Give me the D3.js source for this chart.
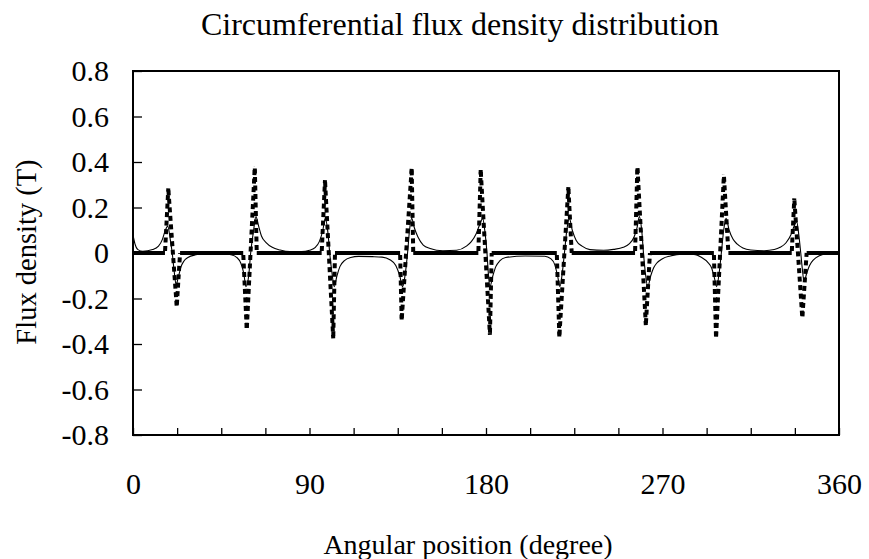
<!DOCTYPE html>
<html>
<head>
<meta charset="utf-8">
<script src="https://cdn.jsdelivr.net/npm/d3@7"></script>
<style>
  body { margin: 0; background: #fff; }
  text { font-family: "Liberation Serif", "Times New Roman", serif; fill: #000; }
</style>
</head>
<body>
<script>
//chart size
var w = 869;
var h = 559;
var serif = '"Liberation Serif", "Times New Roman", serif';

//plot area (inner frame)
var padLeft = 133, padTop = 71, plotW = 706, plotH = 364;

//tick values
var xMinorTicks = d3.range(0, 361, 22.5);
var xTickLabels = [0, 90, 180, 270, 360];
var yTicks = [-0.8, -0.6, -0.4, -0.2, 0, 0.2, 0.4, 0.6, 0.8];

//solid thin series: angle (deg)
var solidAngle = [0, 1, 2.5, 5, 10, 13, 15, 16.5, 17.7, 19, 20, 21, 22, 23, 24.5, 26, 28, 32, 36, 45,
  50, 53, 55, 56.5, 57.6, 59, 60, 61.5, 62.7, 64, 65.5, 68, 71, 75, 80, 86,
  90, 93, 95, 96.8, 98, 99.5, 100.3, 101.5, 102.6, 104, 105.5, 108, 111, 115, 122, 127,
  131, 134, 136, 137.5, 139, 140, 141, 142.1, 143.5, 145.3, 148, 151.5, 158, 165,
  170, 172.5, 175, 177, 178.3, 179.5, 180.5, 181.2, 182, 183.5, 185, 187, 190, 200,
  210, 213, 215, 216.5, 217.7, 219, 220, 221.2, 222.5, 224, 226, 229, 233, 240,
  245, 250, 253, 255.5, 257, 258.2, 259.5, 260.3, 261.3, 262.5, 264, 265.5, 267, 270, 274, 280,
  286, 290, 293, 295, 296.5, 297.6, 299, 300, 301.2, 302.4, 304, 306, 308, 311, 315, 322,
  327, 330, 333, 335.5, 337.2, 338.4, 339.5, 340.5, 341.3, 342.2, 343.5, 345, 347, 350, 354, 360];
//solid thin series: flux density (T)
var solidFlux = [0.08, 0.04, 0.015, 0.008, 0.015, 0.03, 0.06, 0.1, 0.118, 0.06, 0, -0.08, -0.14, -0.11, -0.06, -0.035, -0.02, -0.008, -0.004, -0.003,
  -0.008, -0.02, -0.045, -0.09, -0.148, -0.1, 0, 0.1, 0.16, 0.12, 0.075, 0.045, 0.025, 0.013, 0.006, 0.006,
  0.012, 0.025, 0.05, 0.1, 0.152, 0.08, 0, -0.09, -0.148, -0.1, -0.06, -0.032, -0.02, -0.015, -0.016, -0.018,
  -0.03, -0.055, -0.1, -0.148, -0.08, 0, 0.1, 0.152, 0.11, 0.07, 0.035, 0.02, 0.01, 0.012,
  0.03, 0.05, 0.085, 0.13, 0.152, 0.09, 0, -0.09, -0.148, -0.1, -0.06, -0.035, -0.02, -0.013,
  -0.014, -0.025, -0.05, -0.1, -0.148, -0.08, 0, 0.1, 0.152, 0.1, 0.055, 0.03, 0.015, 0.012,
  0.016, 0.025, 0.04, 0.07, 0.11, 0.16, 0.09, 0, -0.09, -0.148, -0.1, -0.065, -0.045, -0.025, -0.013, -0.005,
  -0.006, -0.02, -0.04, -0.065, -0.11, -0.148, -0.08, 0, 0.1, 0.152, 0.1, 0.06, 0.04, 0.022, 0.013, 0.01,
  0.015, 0.025, 0.045, 0.08, 0.12, 0.138, 0.08, 0, -0.07, -0.126, -0.09, -0.055, -0.03, -0.012, -0.003, 0];

//dotted thick series: angle (deg)
var dotAngle = [0, 16.3, 18, 22.3, 24,
  56.2, 58, 62.1, 63.1,
  96.2, 97.9, 102.1, 103,
  136.2, 137, 142.1, 142.9,
  176.1, 177.3, 182, 182.9,
  216.1, 217.4, 222, 223.7,
  256, 257.2, 261.5, 263.6,
  296.2, 297.3, 301.3, 303.6,
  335.9, 337.2, 341.3, 343.5, 360];
//dotted thick series: flux density (T)
var dotFlux = [0, 0, 0.284, -0.236, 0,
  0, -0.338, 0.38, 0,
  0, 0.32, -0.375, 0,
  0, -0.295, 0.372, 0,
  0, 0.365, -0.36, 0,
  0, -0.368, 0.29, 0,
  0, 0.382, -0.317, 0,
  0, -0.375, 0.343, 0,
  0, 0.24, -0.287, 0, 0];

//scales
var x = d3.scaleLinear().domain([0, 360]).range([padLeft, padLeft + plotW]);
var y = d3.scaleLinear().domain([-0.8, 0.8]).range([padTop + plotH, padTop]);

var svg = d3.select("body")
            .append("svg")
            .attr("width", w)
            .attr("height", h);

//title
svg.append("text")
    .attr("x", 460)
    .attr("y", 35)
    .attr("text-anchor", "middle")
    .style("font-family", serif)
    .style("font-size", "32px")
    .text("Circumferential flux density distribution");

//x axis with inward ticks, labels only every 90 degrees
var xAxis = d3.axisBottom(x)
              .tickValues(xMinorTicks)
              .tickSize(-7)
              .tickPadding(38)
              .tickFormat(function(d) { return xTickLabels.indexOf(d) >= 0 ? d : ""; });

var gx = svg.append("g")
    .attr("transform", "translate(0," + (padTop + plotH) + ")")
    .call(xAxis);

//y axis with inward ticks
var yAxis = d3.axisLeft(y)
              .tickValues(yTicks)
              .tickSize(-9)
              .tickPadding(24)
              .tickFormat(function(d) { return Math.abs(d) < 1e-9 ? "0" : d.toFixed(1); });

var gy = svg.append("g")
    .attr("transform", "translate(" + padLeft + ",0)")
    .call(yAxis);

[gx, gy].forEach(function(g) {
    g.attr("font-family", serif);
    g.select(".domain").remove();
    g.selectAll("line").attr("stroke", "#000").attr("stroke-width", 1.3);
    g.selectAll("text")
        .style("font-family", serif)
        .style("font-size", "30px")
        .attr("fill", "#000");
});

//solid series
var solidData = solidAngle.map(function(a, i) { return [a, solidFlux[i]]; });
var line = d3.line()
             .x(function(d) { return x(d[0]); })
             .y(function(d) { return y(d[1]); })
             .curve(d3.curveMonotoneX);

svg.append("path")
    .datum(solidData)
    .attr("d", line)
    .attr("fill", "none")
    .attr("stroke", "#000")
    .attr("stroke-width", 1.1);

//dotted series: flat zero runs look continuous, spikes are dotted
var dotData = dotAngle.map(function(a, i) { return [a, dotFlux[i]]; });
var segs = [];
for (var i = 0; i < dotData.length - 1; i++) {
    segs.push({a: dotData[i], b: dotData[i + 1], flat: dotData[i][1] === 0 && dotData[i + 1][1] === 0});
}

svg.selectAll("line.dot")
    .data(segs)
    .enter()
    .append("line")
    .attr("class", "dot")
    .attr("x1", function(d) { return x(d.a[0]); })
    .attr("y1", function(d) { return y(d.a[1]); })
    .attr("x2", function(d) { return x(d.b[0]); })
    .attr("y2", function(d) { return y(d.b[1]); })
    .attr("stroke", "#000")
    .attr("stroke-width", 4)
    .attr("stroke-dasharray", function(d) { return d.flat ? null : "5,3.5"; })
    .attr("stroke-dashoffset", function(d) { return d.flat ? null : -2; });

//frame
svg.append("rect")
    .attr("x", padLeft)
    .attr("y", padTop)
    .attr("width", plotW)
    .attr("height", plotH)
    .attr("fill", "none")
    .attr("stroke", "#000")
    .attr("stroke-width", 2);

//axis titles
svg.append("text")
    .attr("x", 468)
    .attr("y", 554)
    .attr("text-anchor", "middle")
    .style("font-family", serif)
    .style("font-size", "28px")
    .text("Angular position (degree)");

svg.append("text")
    .attr("transform", "translate(36,252) rotate(-90)")
    .attr("text-anchor", "middle")
    .style("font-family", serif)
    .style("font-size", "28.5px")
    .text("Flux density (T)");
</script>
</body>
</html>
